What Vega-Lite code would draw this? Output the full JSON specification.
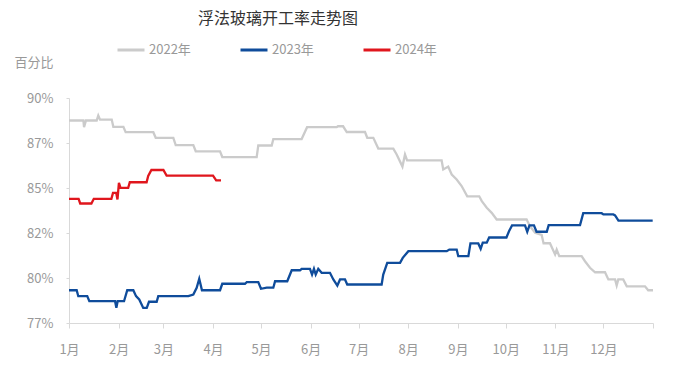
{
  "$schema": "https://vega.github.io/schema/vega-lite/v6.json",
  "width": 584,
  "height": 225,
  "autosize": {"type": "none"},
  "padding": {"left": 69, "top": 98, "right": 20, "bottom": 63},
  "background": "white",
  "config": {"view": {"stroke": null}, "font": "Noto Sans CJK SC"},
  "title": {"text": "浮法玻璃开工率走势图", "fontSize": 16, "fontWeight": "normal", "color": "#333333", "anchor": "middle", "dx": -83, "offset": 8},
  "data": {"values": [
    {"series": "2022年", "day": 0, "rate": 88.75},
    {"series": "2022年", "day": 9, "rate": 88.75},
    {"series": "2022年", "day": 9.4, "rate": 88.38},
    {"series": "2022年", "day": 10.6, "rate": 88.75},
    {"series": "2022年", "day": 17.3, "rate": 88.75},
    {"series": "2022年", "day": 18.3, "rate": 89.03},
    {"series": "2022年", "day": 19.4, "rate": 88.8},
    {"series": "2022年", "day": 26.7, "rate": 88.8},
    {"series": "2022年", "day": 27.7, "rate": 88.4},
    {"series": "2022年", "day": 34, "rate": 88.4},
    {"series": "2022年", "day": 35.4, "rate": 88.1},
    {"series": "2022年", "day": 52.7, "rate": 88.1},
    {"series": "2022年", "day": 54.2, "rate": 87.79},
    {"series": "2022年", "day": 65.2, "rate": 87.79},
    {"series": "2022年", "day": 66.7, "rate": 87.38},
    {"series": "2022年", "day": 77.7, "rate": 87.38},
    {"series": "2022年", "day": 79.2, "rate": 87.04},
    {"series": "2022年", "day": 94.4, "rate": 87.04},
    {"series": "2022年", "day": 95.8, "rate": 86.72},
    {"series": "2022年", "day": 117.3, "rate": 86.72},
    {"series": "2022年", "day": 118.3, "rate": 87.36},
    {"series": "2022年", "day": 126.7, "rate": 87.36},
    {"series": "2022年", "day": 127.7, "rate": 87.72},
    {"series": "2022年", "day": 145.4, "rate": 87.72},
    {"series": "2022年", "day": 148.8, "rate": 88.38},
    {"series": "2022年", "day": 167.3, "rate": 88.38},
    {"series": "2022年", "day": 168.1, "rate": 88.43},
    {"series": "2022年", "day": 171.3, "rate": 88.43},
    {"series": "2022年", "day": 173.6, "rate": 88.11},
    {"series": "2022年", "day": 185, "rate": 88.11},
    {"series": "2022年", "day": 186.4, "rate": 87.79},
    {"series": "2022年", "day": 190.2, "rate": 87.79},
    {"series": "2022年", "day": 193.3, "rate": 87.19},
    {"series": "2022年", "day": 202.7, "rate": 87.19},
    {"series": "2022年", "day": 204.8, "rate": 86.86},
    {"series": "2022年", "day": 208.4, "rate": 86.19},
    {"series": "2022年", "day": 210, "rate": 86.86},
    {"series": "2022年", "day": 211.3, "rate": 86.53},
    {"series": "2022年", "day": 232.9, "rate": 86.53},
    {"series": "2022年", "day": 233.9, "rate": 86.03},
    {"series": "2022年", "day": 237, "rate": 86.19},
    {"series": "2022年", "day": 239.2, "rate": 85.75},
    {"series": "2022年", "day": 242.3, "rate": 85.47},
    {"series": "2022年", "day": 245.4, "rate": 85.11},
    {"series": "2022年", "day": 248.9, "rate": 84.54},
    {"series": "2022年", "day": 256.4, "rate": 84.54},
    {"series": "2022年", "day": 258, "rate": 84.27},
    {"series": "2022年", "day": 261.1, "rate": 83.9},
    {"series": "2022年", "day": 264.2, "rate": 83.62},
    {"series": "2022年", "day": 267.3, "rate": 83.25},
    {"series": "2022年", "day": 286, "rate": 83.25},
    {"series": "2022年", "day": 288.1, "rate": 82.88},
    {"series": "2022年", "day": 291.3, "rate": 82.51},
    {"series": "2022年", "day": 295.4, "rate": 82.4},
    {"series": "2022年", "day": 296.6, "rate": 81.93},
    {"series": "2022年", "day": 300.6, "rate": 81.93},
    {"series": "2022年", "day": 303.8, "rate": 81.31},
    {"series": "2022年", "day": 304.8, "rate": 81.58},
    {"series": "2022年", "day": 306.4, "rate": 81.21},
    {"series": "2022年", "day": 320.4, "rate": 81.21},
    {"series": "2022年", "day": 322.5, "rate": 80.93},
    {"series": "2022年", "day": 325.6, "rate": 80.57},
    {"series": "2022年", "day": 328.8, "rate": 80.32},
    {"series": "2022年", "day": 335, "rate": 80.32},
    {"series": "2022年", "day": 337.1, "rate": 79.92},
    {"series": "2022年", "day": 341.3, "rate": 79.92},
    {"series": "2022年", "day": 342.3, "rate": 79.58},
    {"series": "2022年", "day": 343.3, "rate": 79.92},
    {"series": "2022年", "day": 346.4, "rate": 79.92},
    {"series": "2022年", "day": 348.6, "rate": 79.54},
    {"series": "2022年", "day": 360, "rate": 79.54},
    {"series": "2022年", "day": 362, "rate": 79.32},
    {"series": "2022年", "day": 365, "rate": 79.32},

    {"series": "2023年", "day": 0, "rate": 79.32},
    {"series": "2023年", "day": 4.8, "rate": 79.32},
    {"series": "2023年", "day": 5.8, "rate": 78.99},
    {"series": "2023年", "day": 11.4, "rate": 78.99},
    {"series": "2023年", "day": 12.7, "rate": 78.71},
    {"series": "2023年", "day": 28.8, "rate": 78.71},
    {"series": "2023年", "day": 29.6, "rate": 78.34},
    {"series": "2023年", "day": 30.4, "rate": 78.71},
    {"series": "2023年", "day": 34.4, "rate": 78.71},
    {"series": "2023年", "day": 36.4, "rate": 79.32},
    {"series": "2023年", "day": 40.2, "rate": 79.32},
    {"series": "2023年", "day": 41.9, "rate": 78.99},
    {"series": "2023年", "day": 43.9, "rate": 78.81},
    {"series": "2023年", "day": 46.4, "rate": 78.34},
    {"series": "2023年", "day": 48.6, "rate": 78.34},
    {"series": "2023年", "day": 50, "rate": 78.68},
    {"series": "2023年", "day": 54.8, "rate": 78.68},
    {"series": "2023年", "day": 55.8, "rate": 78.99},
    {"series": "2023年", "day": 74.6, "rate": 78.99},
    {"series": "2023年", "day": 77.7, "rate": 79.08},
    {"series": "2023年", "day": 79.8, "rate": 79.46},
    {"series": "2023年", "day": 81.4, "rate": 79.96},
    {"series": "2023年", "day": 83.1, "rate": 79.32},
    {"series": "2023年", "day": 94.4, "rate": 79.32},
    {"series": "2023年", "day": 95.8, "rate": 79.68},
    {"series": "2023年", "day": 110, "rate": 79.68},
    {"series": "2023年", "day": 111.1, "rate": 79.77},
    {"series": "2023年", "day": 118.3, "rate": 79.77},
    {"series": "2023年", "day": 120, "rate": 79.4},
    {"series": "2023年", "day": 123.6, "rate": 79.46},
    {"series": "2023年", "day": 127.7, "rate": 79.46},
    {"series": "2023年", "day": 128.8, "rate": 79.82},
    {"series": "2023年", "day": 136.4, "rate": 79.82},
    {"series": "2023年", "day": 139.2, "rate": 80.43},
    {"series": "2023年", "day": 144.4, "rate": 80.43},
    {"series": "2023年", "day": 145.4, "rate": 80.51},
    {"series": "2023年", "day": 150.6, "rate": 80.51},
    {"series": "2023年", "day": 151.9, "rate": 80.19},
    {"series": "2023年", "day": 153.1, "rate": 80.51},
    {"series": "2023年", "day": 154.2, "rate": 80.19},
    {"series": "2023年", "day": 155.8, "rate": 80.51},
    {"series": "2023年", "day": 157.9, "rate": 80.29},
    {"series": "2023年", "day": 163.1, "rate": 80.29},
    {"series": "2023年", "day": 165.2, "rate": 79.92},
    {"series": "2023年", "day": 167.7, "rate": 79.58},
    {"series": "2023年", "day": 169.4, "rate": 79.92},
    {"series": "2023年", "day": 172.5, "rate": 79.92},
    {"series": "2023年", "day": 173.9, "rate": 79.64},
    {"series": "2023年", "day": 195.4, "rate": 79.64},
    {"series": "2023年", "day": 196.4, "rate": 80.19},
    {"series": "2023年", "day": 198.9, "rate": 80.84},
    {"series": "2023年", "day": 206.9, "rate": 80.84},
    {"series": "2023年", "day": 208.6, "rate": 81.12},
    {"series": "2023年", "day": 212.1, "rate": 81.49},
    {"series": "2023年", "day": 236.1, "rate": 81.49},
    {"series": "2023年", "day": 237.7, "rate": 81.58},
    {"series": "2023年", "day": 242.3, "rate": 81.58},
    {"series": "2023年", "day": 243.3, "rate": 81.21},
    {"series": "2023年", "day": 249.6, "rate": 81.21},
    {"series": "2023年", "day": 250.9, "rate": 81.92},
    {"series": "2023年", "day": 255.8, "rate": 81.92},
    {"series": "2023年", "day": 257.3, "rate": 81.62},
    {"series": "2023年", "day": 258.6, "rate": 81.96},
    {"series": "2023年", "day": 261.1, "rate": 81.96},
    {"series": "2023年", "day": 262.6, "rate": 82.25},
    {"series": "2023年", "day": 273.4, "rate": 82.25},
    {"series": "2023年", "day": 275, "rate": 82.6},
    {"series": "2023年", "day": 276.9, "rate": 82.92},
    {"series": "2023年", "day": 285, "rate": 82.92},
    {"series": "2023年", "day": 286.4, "rate": 82.57},
    {"series": "2023年", "day": 287.8, "rate": 82.92},
    {"series": "2023年", "day": 290.6, "rate": 82.92},
    {"series": "2023年", "day": 292.2, "rate": 82.57},
    {"series": "2023年", "day": 298.6, "rate": 82.57},
    {"series": "2023年", "day": 299.8, "rate": 82.94},
    {"series": "2023年", "day": 319.4, "rate": 82.94},
    {"series": "2023年", "day": 321.4, "rate": 83.6},
    {"series": "2023年", "day": 332.9, "rate": 83.6},
    {"series": "2023年", "day": 334, "rate": 83.53},
    {"series": "2023年", "day": 340.2, "rate": 83.53},
    {"series": "2023年", "day": 341.3, "rate": 83.48},
    {"series": "2023年", "day": 343.4, "rate": 83.19},
    {"series": "2023年", "day": 364.8, "rate": 83.19},

    {"series": "2024年", "day": 0, "rate": 84.4},
    {"series": "2024年", "day": 6, "rate": 84.4},
    {"series": "2024年", "day": 7, "rate": 84.14},
    {"series": "2024年", "day": 14, "rate": 84.14},
    {"series": "2024年", "day": 15.5, "rate": 84.4},
    {"series": "2024年", "day": 26.5, "rate": 84.4},
    {"series": "2024年", "day": 27.5, "rate": 84.73},
    {"series": "2024年", "day": 29.5, "rate": 84.73},
    {"series": "2024年", "day": 30.3, "rate": 84.36},
    {"series": "2024年", "day": 31.2, "rate": 85.29},
    {"series": "2024年", "day": 32.2, "rate": 85.01},
    {"series": "2024年", "day": 37, "rate": 85.01},
    {"series": "2024年", "day": 38, "rate": 85.32},
    {"series": "2024年", "day": 48.5, "rate": 85.32},
    {"series": "2024年", "day": 49.5, "rate": 85.67},
    {"series": "2024年", "day": 51.5, "rate": 86.0},
    {"series": "2024年", "day": 59, "rate": 86.0},
    {"series": "2024年", "day": 61, "rate": 85.69},
    {"series": "2024年", "day": 90, "rate": 85.69},
    {"series": "2024年", "day": 92, "rate": 85.42},
    {"series": "2024年", "day": 95, "rate": 85.42}
  ]},
  "mark": {"type": "line", "strokeWidth": 2.3},
  "encoding": {
    "x": {
      "field": "day", "type": "quantitative",
      "scale": {"domain": [0, 365], "nice": false, "zero": false},
      "axis": {
        "values": [0, 31, 59, 90, 120, 151, 181, 212, 243, 273, 304, 334, 365],
        "labelExpr": "datum.value == 365 ? '' : (indexof([0,31,59,90,120,151,181,212,243,273,304,334], datum.value) + 1) + '月'",
        "title": null, "grid": false, "labelFlush": false,
        "domainColor": "#d9d9d9", "tickColor": "#d9d9d9", "tickSize": 5,
        "labelPadding": 15, "labelColor": "#999999", "labelFontSize": 13
      }
    },
    "y": {
      "field": "rate", "type": "quantitative",
      "scale": {"domain": [77.5, 90], "nice": false, "zero": false},
      "axis": {
        "values": [77.5, 80, 82.5, 85, 87.5, 90],
        "labelExpr": "floor(datum.value) + '%'",
        "grid": false,
        "title": "百分比", "titleAngle": 0, "titleX": -55, "titleY": -36,
        "titleAlign": "left", "titleBaseline": "middle", "titleColor": "#999999",
        "titleFontSize": 13, "titleFontWeight": "normal",
        "domainColor": "#d9d9d9", "tickColor": "#d9d9d9", "tickSize": 3,
        "labelPadding": 13, "labelColor": "#999999", "labelFontSize": 13
      }
    },
    "color": {
      "field": "series", "type": "nominal",
      "scale": {"domain": ["2022年", "2023年", "2024年"], "range": ["#cbcbcb", "#0f4c9b", "#e0161d"]},
      "legend": {
        "orient": "none", "legendX": 47, "legendY": -63, "direction": "horizontal",
        "title": null, "symbolType": "stroke", "symbolSize": 729, "symbolStrokeWidth": 3,
        "labelFontSize": 13, "labelColor": "#999999", "columnPadding": 43, "labelOffset": 3
      }
    }
  }
}
